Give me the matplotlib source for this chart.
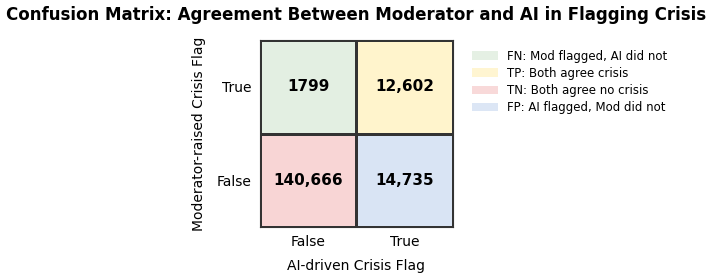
import matplotlib
matplotlib.use("Agg")
import matplotlib.pyplot as plt
from matplotlib.patches import Patch
from matplotlib.colors import ListedColormap
import numpy as np

row_labels = ["True", "False"]
col_labels = ["False", "True"]
values = [[1799, 12602], [140666, 14735]]
cell_names = [["FN: Mod flagged, AI did not", "TP: Both agree crisis"],
              ["TN: Both agree no crisis", "FP: AI flagged, Mod did not"]]
colors = ["#e3efe2", "#fff4cc", "#f8d5d5", "#d9e4f4"]

fig = plt.figure(figsize=(7.12, 2.78), dpi=100)
ax = fig.add_axes([0.365, 0.183, 0.271, 0.673])

idx = np.array([[0, 1], [2, 3]])
cmap = ListedColormap(colors)
ax.pcolormesh(idx, cmap=cmap, vmin=-0.5, vmax=3.5, edgecolors="#333333", linewidth=1.0)
ax.set_xlim(0, 2)
ax.set_ylim(2, 0)
for i in range(2):
    for j in range(2):
        v = values[i][j]
        ax.text(j + 0.5, i + 0.5, f"{v:,}" if v >= 10000 else str(v),
                ha="center", va="center", fontsize=11, fontweight="bold", color="black")

ax.set_xticks([0.5, 1.5])
ax.set_xticklabels(col_labels, fontsize=10)
ax.set_yticks([0.5, 1.5])
ax.set_yticklabels(row_labels, fontsize=10)
ax.tick_params(length=0, pad=6)
ax.set_xlabel("AI-driven Crisis Flag", fontsize=10, labelpad=7)
ax.set_ylabel("Moderator-raised Crisis Flag", fontsize=10, labelpad=8)
for s in ax.spines.values():
    s.set_color("#333333")

handles = [Patch(facecolor=colors[0], alpha=0.9, label=cell_names[0][0]),
           Patch(facecolor=colors[1], alpha=0.9, label=cell_names[0][1]),
           Patch(facecolor=colors[2], alpha=0.9, label=cell_names[1][0]),
           Patch(facecolor=colors[3], alpha=0.9, label=cell_names[1][1])]
fig.legend(handles=handles, loc="upper left", bbox_to_anchor=(0.648, 0.86),
           frameon=False, fontsize=8.5, handlelength=2.2, labelspacing=0.35)

fig.suptitle("Confusion Matrix: Agreement Between Moderator and AI in Flagging Crisis",
             fontsize=12, fontweight="bold", x=0.5, y=0.98)
fig.savefig("out.png", dpi=100)
